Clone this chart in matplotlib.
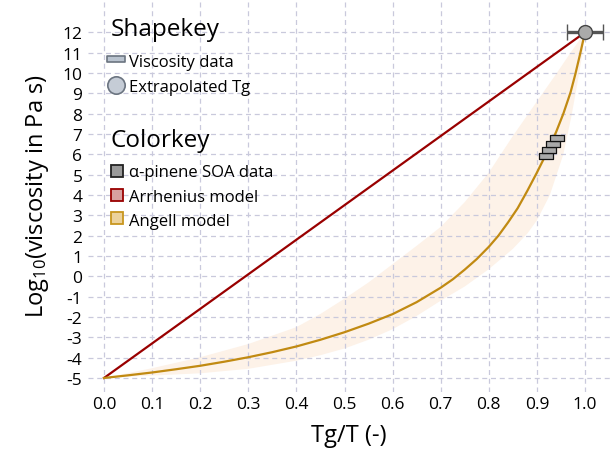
import matplotlib
matplotlib.use("Agg")
import matplotlib.pyplot as plt
from matplotlib.path import Path

plt.rcParams['font.family'] = ['Open Sans', 'DejaVu Sans']
plt.rcParams['mathtext.fontset'] = 'custom'
plt.rcParams['mathtext.rm'] = 'Open Sans'
plt.rcParams['mathtext.it'] = 'Open Sans:italic'

# Arrhenius (strong) model, straight line
arrhenius_x = [0.0, 1.0]
arrhenius_y = [-5.0, 12.0]

# Angell model curve
angell_x = [0.0, 0.05, 0.1, 0.15, 0.2, 0.25, 0.3, 0.35, 0.4, 0.45, 0.5, 0.55,
            0.6, 0.65, 0.7, 0.725, 0.75, 0.775, 0.8, 0.82, 0.84, 0.86, 0.88,
            0.9, 0.92, 0.94, 0.955, 0.97, 0.98, 0.99, 1.0]
angell_y = [-5.0, -4.87, -4.73, -4.57, -4.4, -4.2, -3.98, -3.73, -3.45, -3.12, -2.75, -2.33,
            -1.86, -1.27, -0.56, -0.15, 0.33, 0.85, 1.45, 2.0, 2.65, 3.35, 4.2,
            5.1, 6.05, 7.1, 8.0, 9.05, 9.95, 10.95, 12.0]

# uncertainty band of the Angell model
band_upper_x = [0.0, 0.1, 0.2, 0.3, 0.4, 0.45, 0.5, 0.55, 0.6, 0.65, 0.7, 0.75,
                0.8, 0.85, 0.9, 0.94, 0.97, 1.0]
band_upper_y = [-5.0, -4.52, -3.98, -3.33, -2.5, -1.85, -1.1, -0.3, 0.6, 1.5, 2.43, 3.65,
                5.1, 6.9, 8.6, 9.95, 11.0, 12.0]
band_lower_x = [0.0, 0.1, 0.2, 0.3, 0.4, 0.45, 0.5, 0.55, 0.6, 0.65, 0.7, 0.75,
                0.8, 0.85, 0.88, 0.9, 0.927, 0.955, 0.972, 0.985, 0.995, 1.0]
band_lower_y = [-5.0, -4.88, -4.77, -4.55, -4.15, -3.88, -3.55, -3.12, -2.6, -1.95, -1.2, -0.5,
                0.35, 1.35, 2.1, 2.75, 4.0, 6.0, 7.9, 9.6, 11.0, 12.0]

# alpha-pinene SOA viscosity data
soa_x = [0.919, 0.926, 0.934, 0.942]
soa_y = [5.94, 6.2, 6.49, 6.82]

# extrapolated Tg point
tg_x = [1.0]
tg_y = [12.0]
tg_xerr = [0.037]

xticks = [0.0, 0.1, 0.2, 0.3, 0.4, 0.5, 0.6, 0.7, 0.8, 0.9, 1.0]
xtick_labels = ["0.0", "0.1", "0.2", "0.3", "0.4", "0.5", "0.6", "0.7", "0.8", "0.9", "1.0"]
yticks = list(range(-5, 13))
ytick_labels = [str(v) for v in yticks]

# flat rectangle marker for the viscosity data
rect = Path([(-1, -0.36), (1, -0.36), (1, 0.36), (-1, 0.36), (-1, -0.36)],
            [Path.MOVETO, Path.LINETO, Path.LINETO, Path.LINETO, Path.CLOSEPOLY])

fig = plt.figure(figsize=(6.1, 4.52), dpi=100)
ax = fig.add_axes([88 / 610, 59 / 452, 522 / 610, 393 / 452])

ax.fill(band_upper_x + band_lower_x[::-1], band_upper_y + band_lower_y[::-1],
        color='#fdf2e8', lw=0, zorder=0.3)
ax.plot(arrhenius_x, arrhenius_y, color='#990000', lw=1.6, zorder=2)
ax.plot(angell_x, angell_y, color='#c18a12', lw=1.6, zorder=2)
ax.plot(soa_x, soa_y, ls='none', marker=rect, ms=10.3, mfc='#a9a9a9', mec='#111111',
        mew=0.9, zorder=3)
ax.errorbar(tg_x, tg_y, xerr=tg_xerr, fmt='o', ms=10, mfc='#aaaaaa', mec='#444444',
            mew=1.0, ecolor='#555555', elinewidth=2.4, capsize=6, capthick=2.2,
            zorder=4, clip_on=False)

ax.set_xlim(-0.0333, 1.052)
ax.set_ylim(-5.69, 13.64)
ax.set_xticks(xticks, xtick_labels)
ax.set_yticks(yticks, ytick_labels)
ax.tick_params(length=0, labelsize=12.5)
ax.tick_params(axis='x', pad=3)
ax.tick_params(axis='y', pad=4)
for s in ax.spines.values():
    s.set_visible(False)
ax.set_axisbelow(True)
ax.grid(True, color='#c9c9dc', linestyle=(0, (4, 3)), linewidth=0.9)

ax.set_xlabel("Tg/T (-)", fontsize=17, labelpad=8)
ax.set_ylabel("Log$_{\\mathrm{10}}$(viscosity in Pa s)", fontsize=17, labelpad=8)

# hand-made keys
tr = ax.transAxes
ax.text(0.043, 0.909, "Shapekey", transform=tr, fontsize=17.5, va='baseline')
ax.plot([0.0533], [0.8466], transform=tr, clip_on=False, marker=rect, ms=13,
        mfc='#b9c3cf', mec='#6b7480', mew=1.2)
ax.text(0.078, 0.830, "Viscosity data", transform=tr, fontsize=12, va='baseline')
ax.plot([0.0538], [0.7807], transform=tr, clip_on=False, marker='o', ms=12.5,
        mfc='#c5ccd6', mec='#6b7480', mew=1.2)
ax.text(0.078, 0.765, "Extrapolated Tg", transform=tr, fontsize=12, va='baseline')

ax.text(0.043, 0.627, "Colorkey", transform=tr, fontsize=17.5, va='baseline')
keys = [("α-pinene SOA data", '#9a9a9a', '#222222', 0.5631, 0.550),
        ("Arrhenius model", '#d8a0a0', '#990000', 0.5025, 0.487),
        ("Angell model", '#ecd29c', '#c8961e', 0.4415, 0.426)]
for label, fc, ec, ym, yt in keys:
    ax.plot([0.0549], [ym], transform=tr, clip_on=False, marker='s', ms=8.6,
            mfc=fc, mec=ec, mew=1.3)
    ax.text(0.078, yt, label, transform=tr, fontsize=12, va='baseline')

fig.savefig("out.png", dpi=100)
